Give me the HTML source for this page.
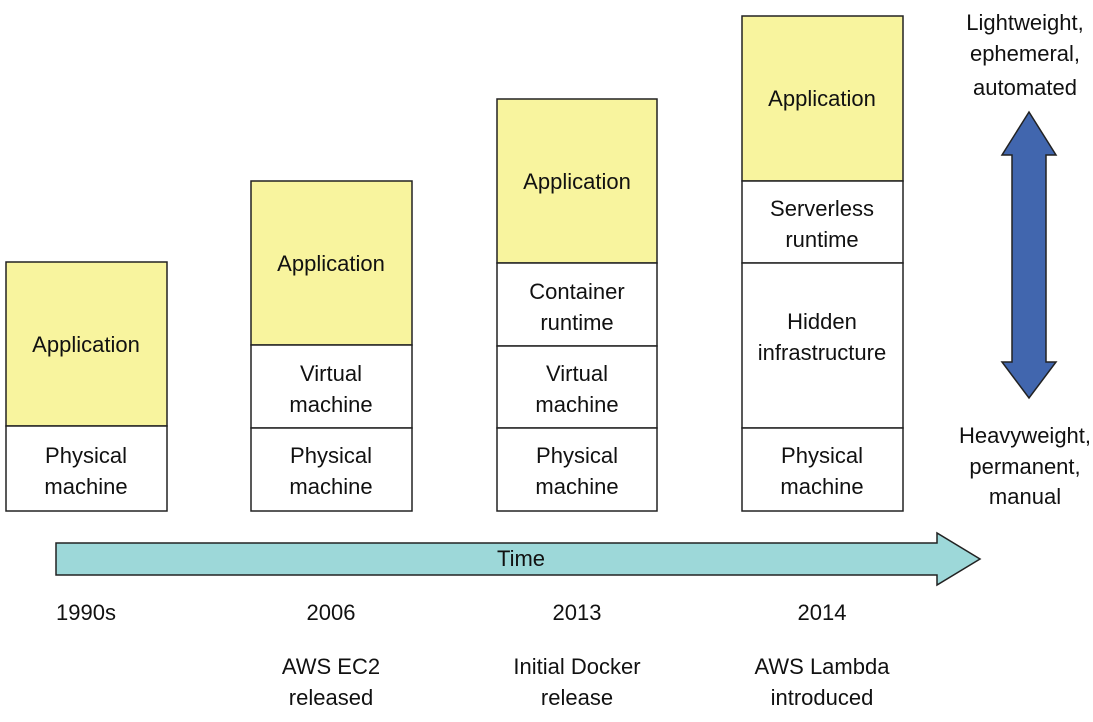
<!DOCTYPE html>
<html><head><style>
body{margin:0;background:#fff;}
svg text{font-family:"Liberation Sans",Arial,sans-serif;font-size:22px;fill:#111;text-anchor:middle;}
</style></head><body>
<svg width="1093" height="717" viewBox="0 0 1093 717" xmlns="http://www.w3.org/2000/svg">
<g stroke="#222" stroke-width="1.5">
<rect x="6" y="262" width="161" height="164" fill="#f8f49e"/>
<rect x="6" y="426" width="161" height="85" fill="#fff"/>
<rect x="251" y="181" width="161" height="164" fill="#f8f49e"/>
<rect x="251" y="345" width="161" height="83" fill="#fff"/>
<rect x="251" y="428" width="161" height="83" fill="#fff"/>
<rect x="497" y="99" width="160" height="164" fill="#f8f49e"/>
<rect x="497" y="263" width="160" height="83" fill="#fff"/>
<rect x="497" y="346" width="160" height="82" fill="#fff"/>
<rect x="497" y="428" width="160" height="83" fill="#fff"/>
<rect x="742" y="16" width="161" height="165" fill="#f8f49e"/>
<rect x="742" y="181" width="161" height="82" fill="#fff"/>
<rect x="742" y="263" width="161" height="165" fill="#fff"/>
<rect x="742" y="428" width="161" height="83" fill="#fff"/>
<polygon points="56,543 937,543 937,533 980,559 937,585 937,575 56,575" fill="#9dd8d9"/>
<polygon points="1029,112 1056,155 1046,155 1046,362 1056,362 1029,398 1002,362 1012,362 1012,155 1002,155" fill="#4166ae"/>
</g>
<text x="86" y="352">Application</text>
<text x="86" y="463">Physical</text><text x="86" y="494">machine</text>
<text x="331" y="271">Application</text>
<text x="331" y="381">Virtual</text><text x="331" y="412">machine</text>
<text x="331" y="463">Physical</text><text x="331" y="494">machine</text>
<text x="577" y="189">Application</text>
<text x="577" y="299">Container</text><text x="577" y="330">runtime</text>
<text x="577" y="381">Virtual</text><text x="577" y="412">machine</text>
<text x="577" y="463">Physical</text><text x="577" y="494">machine</text>
<text x="822" y="106">Application</text>
<text x="822" y="216">Serverless</text><text x="822" y="247">runtime</text>
<text x="822" y="329">Hidden</text><text x="822" y="360">infrastructure</text>
<text x="822" y="463">Physical</text><text x="822" y="494">machine</text>
<text x="1025" y="30">Lightweight,</text><text x="1025" y="61">ephemeral,</text><text x="1025" y="95">automated</text>
<text x="1025" y="443">Heavyweight,</text><text x="1025" y="474">permanent,</text><text x="1025" y="504">manual</text>
<text x="521" y="566">Time</text>
<text x="86" y="620">1990s</text>
<text x="331" y="620">2006</text>
<text x="577" y="620">2013</text>
<text x="822" y="620">2014</text>
<text x="331" y="674">AWS EC2</text><text x="331" y="705">released</text>
<text x="577" y="674">Initial Docker</text><text x="577" y="705">release</text>
<text x="822" y="674">AWS Lambda</text><text x="822" y="705">introduced</text>
</svg>
</body></html>
